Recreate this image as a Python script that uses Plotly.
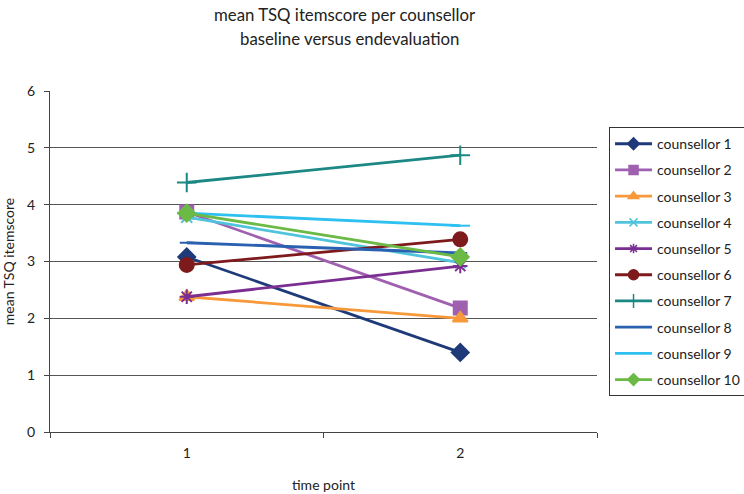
import plotly.graph_objects as go

time_points = ["1", "2"]
names = [f"counsellor {i}" for i in range(1, 11)]
c1 = [3.08, 1.40]
c2 = [3.87, 2.18]
c3 = [2.38, 2.00]
c4 = [3.78, 2.98]
c5 = [2.38, 2.92]
c6 = [2.94, 3.39]
c7 = [4.39, 4.87]
c8 = [3.33, 3.15]
c9 = [3.85, 3.63]
c10 = [3.85, 3.08]
series = [c1, c2, c3, c4, c5, c6, c7, c8, c9, c10]

colors = ["#1F3A78", "#A060B0", "#F7993A", "#4FC4DC", "#7B2E92",
          "#7E1A1C", "#1B8884", "#2A60B0", "#2EC0F0", "#6BBA46"]
symbols = ["diamond", "square", "triangle-up", "x-thin-open", "asterisk-open",
           "circle", "cross-thin-open", "line-ew-open", "line-ew-open", "diamond"]
sizes = [13, 13, 13, 11, 12, 14, 14, 10, 14, 13]
leg_sizes = [9, 9, 9, 8, 8, 10, 10, 8, 10, 9]

fig = go.Figure()
for n, v, c, s, sz in zip(names, series, colors, symbols, sizes):
    fig.add_trace(go.Scatter(
        x=time_points, y=v, name=n, mode="lines+markers", showlegend=False,
        line=dict(color=c, width=2.8),
        marker=dict(symbol=s, size=sz, color=c, line=dict(color=c, width=2)),
    ))
# legend entries (smaller symbols, as in the reference legend)
for n, c, s, sz in zip(names, colors, symbols, leg_sizes):
    fig.add_trace(go.Scatter(
        x=[None], y=[None], name=n, mode="lines+markers", legendgroup=n,
        line=dict(color=c, width=2.8),
        marker=dict(symbol=s, size=sz, color=c, line=dict(color=c, width=1.5)),
    ))

font = "Lato, 'Open Sans', sans-serif"
fig.update_layout(
    width=744, height=494,
    margin=dict(l=50, r=147, t=91, b=62, autoexpand=False),
    paper_bgcolor="white", plot_bgcolor="white",
    font=dict(family=font, size=14, color="#222"),
    xaxis=dict(type="category", range=[-0.5, 1.5], tickson="boundaries",
               ticks="outside", ticklen=5, tickcolor="#444", showline=True,
               linecolor="#444", linewidth=1.2, showgrid=False, automargin=False,
               tickfont=dict(size=14), ticklabelstandoff=8,
               title=dict(text="time point", standoff=20, font=dict(size=14))),
    yaxis=dict(range=[0, 6], dtick=1, ticks="outside", ticklen=5, tickcolor="#444",
               showline=True, linecolor="#444", linewidth=1.2, showgrid=True,
               gridcolor="#555", gridwidth=1.2, zeroline=False, automargin=False,
               tickfont=dict(size=14), ticklabelstandoff=6,
               title=dict(text="mean TSQ itemscore", standoff=9, font=dict(size=14))),
    legend=dict(x=1.022, xanchor="left", y=0.894, yanchor="top",
                bordercolor="#333", borderwidth=1, tracegroupgap=5, itemwidth=37,
                font=dict(size=14, family=font, color="#222"), bgcolor="white"),
    annotations=[
        dict(text="mean TSQ itemscore per counsellor", xref="paper", yref="paper",
             x=0.5375, y=1.2229, xanchor="center", yanchor="middle", showarrow=False,
             font=dict(size=16.8, family=font, color="#222")),
        dict(text="baseline versus endevaluation", xref="paper", yref="paper",
             x=0.548, y=1.1554, xanchor="center", yanchor="middle", showarrow=False,
             font=dict(size=16.8, family=font, color="#222")),
    ],
)
fig.write_html("out.html")
